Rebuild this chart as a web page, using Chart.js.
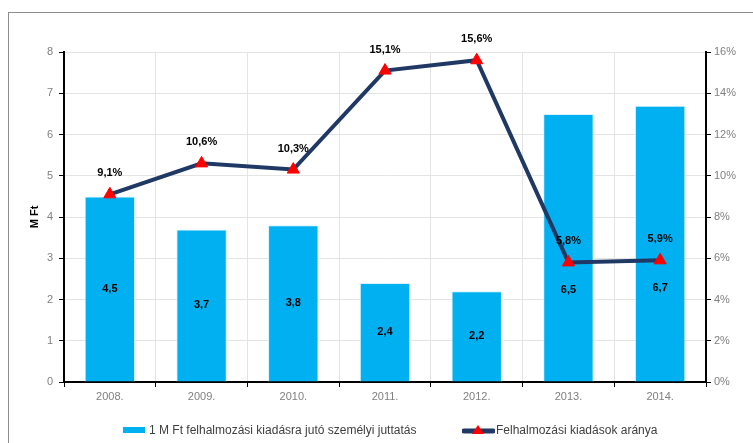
<!DOCTYPE html>
<html>
<head>
<meta charset="utf-8">
<script src="https://cdn.jsdelivr.net/npm/chart.js@4/dist/chart.umd.min.js"></script>
<style>
  html, body { margin: 0; padding: 0; background: #fff; overflow: hidden; }
  #wrap { position: relative; width: 753px; height: 443px; }
  #frame { position: absolute; left: 8px; top: 12px; width: 780px; height: 460px; border: 1px solid #8c8c8c; }
  canvas { position: absolute; left: 0; top: 0; }
  #legend { position: absolute; top: 423px; left: 0; width: 753px; font: 12px "Liberation Sans", Arial, sans-serif; color: #404040; }
  .item { position: absolute; top: 0; white-space: nowrap; line-height: 14px; }
  .sw { display: inline-block; vertical-align: middle; margin-right: 4px; }
</style>
</head>
<body>
<div id="wrap">
  <div id="frame"></div>
  <canvas id="c" width="753" height="443"></canvas>
  <div id="legend">
    <div class="item" style="left:123px"><span class="sw" style="width:22px;height:6px;background:#00B0F0;margin-top:-2px"></span>1 M Ft felhalmozási kiadásra jutó személyi juttatás</div>
    <div class="item" style="left:462px"><svg class="sw" width="33" height="12" style="margin-right:1px;margin-top:-2px"><line x1="2" y1="7" x2="31" y2="7" stroke="#1F3864" stroke-width="5" stroke-linecap="round"/><polygon points="16,1 22,10 10,10" fill="#FF0000"/></svg>Felhalmozási kiadások aránya</div>
  </div>
</div>
<script>
// data
const years = ['2008.', '2009.', '2010.', '2011.', '2012.', '2013.', '2014.'];
const perMFt = [4.5, 3.7, 3.8, 2.4, 2.2, 6.5, 6.7];
const sharePct = [9.1, 10.6, 10.3, 15.1, 15.6, 5.8, 5.9];

const fmt = (v, d) => v.toFixed(d).replace('.', ',');

// value labels drawn from the element positions
const valueLabels = {
  id: 'valueLabels',
  afterDatasetsDraw(chart) {
    const ctx = chart.ctx;
    const pts = chart.getDatasetMeta(0).data;
    ctx.save();
    ctx.font = 'bold 11px "Liberation Sans", Arial, sans-serif';
    ctx.fillStyle = '#000';
    ctx.textAlign = 'center';
    ctx.textBaseline = 'middle';
    chart.getDatasetMeta(1).data.forEach((el, i) => {
      let y = (el.y + el.base) / 2;
      // move the label below the line marker when they would collide
      if (Math.abs(y - pts[i].y) < 30) y = pts[i].y + 28;
      ctx.fillText(fmt(perMFt[i], 1), el.x, y);
    });
    pts.forEach((el, i) => {
      ctx.fillText(fmt(sharePct[i], 1) + '%', el.x, el.y - 21);
    });
    ctx.restore();
  }
};

const tickFont = { family: '"Liberation Sans", Arial, sans-serif', size: 11 };

new Chart(document.getElementById('c'), {
  data: {
    labels: years,
    datasets: [{
      type: 'line',
      label: 'Felhalmozási kiadások aránya',
      data: sharePct,
      yAxisID: 'y1',
      borderColor: '#1F3864',
      borderWidth: 4,
      pointStyle: 'triangle',
      pointRadius: 7,
      pointBackgroundColor: '#FF0000',
      pointBorderColor: '#FF0000',
      pointBorderWidth: 1,
      tension: 0,
      order: 0
    }, {
      type: 'bar',
      label: '1 M Ft felhalmozási kiadásra jutó személyi juttatás',
      data: perMFt,
      yAxisID: 'y',
      backgroundColor: '#00B0F0',
      borderColor: '#D9F3FD',
      borderWidth: 1,
      categoryPercentage: 0.55,
      barPercentage: 1,
      order: 1
    }]
  },
  options: {
    responsive: false,
    animation: false,
    layout: { padding: { top: 52, left: 0, right: 0, bottom: 0 } },
    plugins: { legend: { display: false }, tooltip: { enabled: false } },
    scales: {
      x: {
        offset: true,
        grid: { offset: true, color: '#e4e4e4', tickColor: '#000', tickLength: 5 },
        border: { color: '#000', width: 2 },
        ticks: { color: '#7f7f7f', font: tickFont, padding: 3 },
        afterFit: s => { s.height = 61; }
      },
      y: {
        position: 'left',
        min: 0, max: 8,
        ticks: { stepSize: 1, color: '#7f7f7f', font: tickFont, padding: 6 },
        grid: { color: '#e4e4e4', tickColor: '#000', tickLength: 5 },
        border: { color: '#000', width: 2 },
        title: { display: true, text: 'M Ft', color: '#000', font: { family: '"Liberation Sans", Arial, sans-serif', size: 11, weight: 'bold' }, padding: { top: 28, bottom: 0 } },
        afterFit: s => { s.width = 64; }
      },
      y1: {
        position: 'right',
        min: 0, max: 16,
        ticks: { stepSize: 2, color: '#7f7f7f', font: tickFont, padding: 3, callback: v => v + '%' },
        grid: { drawOnChartArea: false, tickColor: '#000', tickLength: 5 },
        border: { color: '#000', width: 2 },
        afterFit: s => { s.width = 47; }
      }
    }
  },
  plugins: [valueLabels]
});
</script>
</body>
</html>
